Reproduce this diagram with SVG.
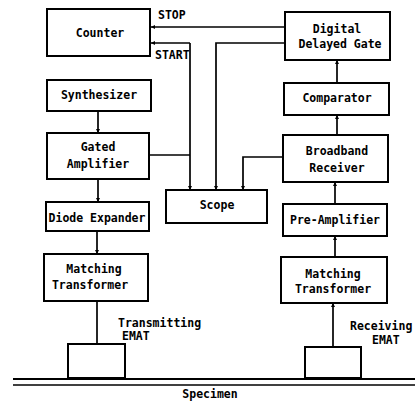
<svg xmlns="http://www.w3.org/2000/svg" width="415" height="407" viewBox="0 0 415 407">
  <style>
    .box { fill: #fff; stroke: #000; stroke-width: 2; }
    .wire { fill: none; stroke: #000; stroke-width: 1.7; }
    text { font-family: "DejaVu Sans Mono", "Liberation Mono", monospace; font-weight: bold; font-size: 11.5px; fill: #000; }
    .c { text-anchor: middle; }
  </style>
  <defs>
    <marker id="arr" viewBox="0 0 6 6" refX="6" refY="3" markerWidth="4" markerHeight="4" orient="auto" markerUnits="userSpaceOnUse">
      <path d="M0,0 L6,3 L0,6 Z" fill="#000"/>
    </marker>
  </defs>
  <rect width="415" height="407" fill="#fff"/>

  <!-- signal paths -->
  <g id="connectors">
    <!-- transmit chain -->
    <path class="wire" d="M98,111 V133" marker-end="url(#arr)"/>
    <path class="wire" d="M98,179 V202" marker-end="url(#arr)"/>
    <path class="wire" d="M97,231 V254" marker-end="url(#arr)"/>
    <path class="wire" d="M97,301 V344"/>
    <!-- receive chain -->
    <path class="wire" d="M337,83 V60" marker-end="url(#arr)"/>
    <path class="wire" d="M337,135 V115" marker-end="url(#arr)"/>
    <path class="wire" d="M335,204 V182" marker-end="url(#arr)"/>
    <path class="wire" d="M335,257 V236" marker-end="url(#arr)"/>
    <path class="wire" d="M333,347 V303" marker-end="url(#arr)"/>
    <!-- counter STOP / START -->
    <path class="wire" d="M285,27 H151" marker-end="url(#arr)"/>
    <path class="wire" d="M190,43 H151" marker-end="url(#arr)"/>
    <!-- gate pulse to counter start and scope -->
    <path class="wire" d="M149,155 H190"/>
    <path class="wire" d="M190,43 V190" marker-end="url(#arr)"/>
    <!-- delayed gate to scope -->
    <path class="wire" d="M285,43 H216 V190" marker-end="url(#arr)"/>
    <!-- receiver to scope -->
    <path class="wire" d="M283,157 H243 V190" marker-end="url(#arr)"/>
  </g>

  <g id="counter">
    <rect class="box" x="47" y="9" width="103" height="47"/>
    <text class="c" x="100" y="37">Counter</text>
  </g>
  <text x="158" y="19">STOP</text>
  <text x="155" y="59">START</text>

  <g id="synthesizer">
    <rect class="box" x="47" y="80" width="104" height="31"/>
    <text class="c" x="99" y="99">Synthesizer</text>
  </g>

  <g id="gated-amplifier">
    <rect class="box" x="47" y="133" width="102" height="46"/>
    <text class="c" x="98" y="151">Gated</text>
    <text class="c" x="98" y="168">Amplifier</text>
  </g>

  <g id="diode-expander">
    <rect class="box" x="46" y="202" width="103" height="29"/>
    <text class="c" x="97" y="222">Diode Expander</text>
  </g>

  <g id="matching-transformer-tx">
    <rect class="box" x="44" y="254" width="104" height="47"/>
    <text class="c" x="94" y="273">Matching</text>
    <text class="c" x="90" y="289">Transformer</text>
  </g>

  <g id="transmitting-emat">
    <rect class="box" x="68" y="344" width="57" height="34"/>
    <text x="118" y="327">Transmitting</text>
    <text x="122" y="340">EMAT</text>
  </g>

  <g id="digital-delayed-gate">
    <rect class="box" x="285" y="12" width="105" height="48"/>
    <text class="c" x="337" y="33">Digital</text>
    <text class="c" x="340" y="48">Delayed Gate</text>
  </g>

  <g id="comparator">
    <rect class="box" x="284" y="83" width="105" height="32"/>
    <text class="c" x="337" y="102">Comparator</text>
  </g>

  <g id="broadband-receiver">
    <rect class="box" x="283" y="135" width="105" height="47"/>
    <text class="c" x="337" y="155">Broadband</text>
    <text class="c" x="337" y="172">Receiver</text>
  </g>

  <g id="scope">
    <rect class="box" x="166" y="190" width="101" height="33"/>
    <text class="c" x="217" y="209">Scope</text>
  </g>

  <g id="pre-amplifier">
    <rect class="box" x="283" y="204" width="104" height="32"/>
    <text class="c" x="335" y="224">Pre-Amplifier</text>
  </g>

  <g id="matching-transformer-rx">
    <rect class="box" x="281" y="257" width="106" height="46"/>
    <text class="c" x="333" y="278">Matching</text>
    <text class="c" x="333" y="293">Transformer</text>
  </g>

  <g id="receiving-emat">
    <rect class="box" x="305" y="347" width="56" height="31"/>
    <text x="350" y="330">Receiving</text>
    <text x="372" y="344">EMAT</text>
  </g>

  <!-- specimen surface -->
  <g id="specimen">
    <line x1="13" y1="379" x2="415" y2="379" stroke="#000" stroke-width="2"/>
    <line x1="13" y1="385" x2="415" y2="385" stroke="#000" stroke-width="1.5"/>
    <text class="c" x="210" y="398">Specimen</text>
  </g>
</svg>
